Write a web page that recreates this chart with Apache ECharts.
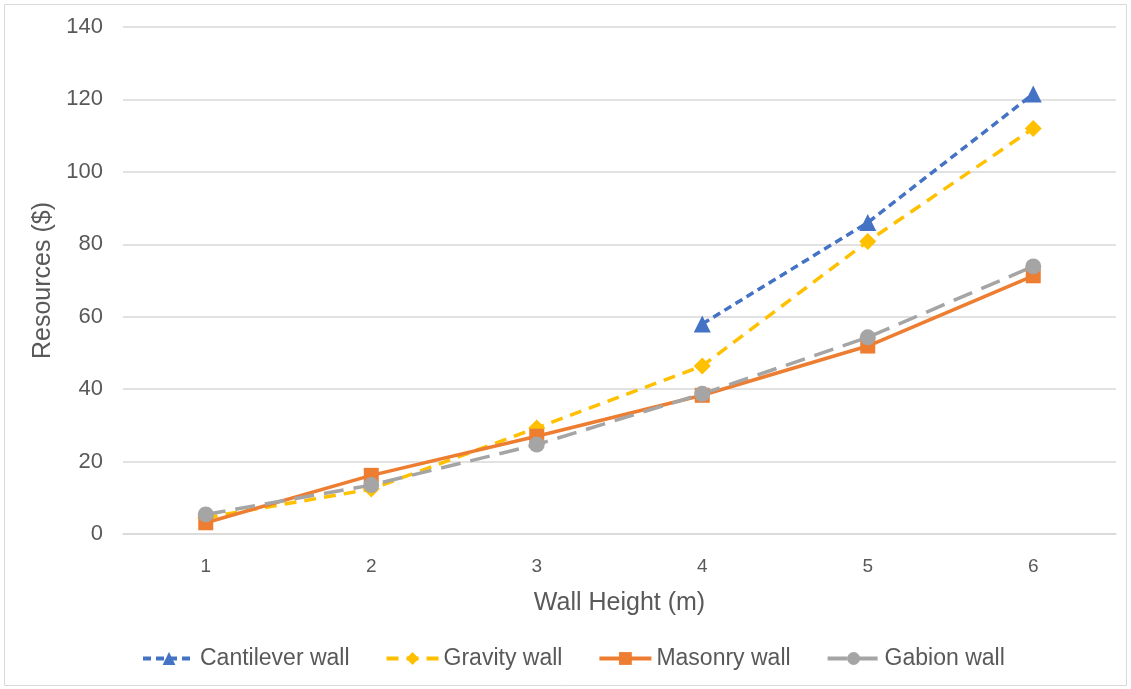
<!DOCTYPE html>
<html>
<head>
<meta charset="utf-8">
<style>
  html, body { margin: 0; padding: 0; background: #ffffff; }
  #chart { width: 1131px; height: 689px; }
</style>
<script src="https://cdn.jsdelivr.net/npm/echarts@6/dist/echarts.min.js"></script>
</head>
<body>
<div id="chart"></div>
<script>
// Wall heights (m) along the x axis
const heights = ['1', '2', '3', '4', '5', '6'];

// Resources ($) for each wall type
const cantilever = [null, null, null, 58, 86, 121.5];
const gravity = [4.5, 12.4, 29.3, 46.4, 80.8, 112];
const masonry = [3.1, 16.2, 27, 38.3, 51.9, 71.3];
const gabion = [5.4, 13.5, 24.7, 38.7, 54.3, 73.9];

// Value axis ticks
const yMin = 0, yMax = 140, yStep = 20;

const textColor = '#595959';
const fontFamily = '"Liberation Sans", Arial, sans-serif';

const chart = echarts.init(document.getElementById('chart'), null, { renderer: 'canvas' });

function lineSeries(name, data, color, symbol, dash, size) {
  return {
    name: name,
    type: 'line',
    data: data,
    symbol: symbol,
    symbolSize: size,
    showAllSymbol: true,
    connectNulls: false,
    itemStyle: { color: color },
    lineStyle: { color: color, width: 3.5, type: dash, cap: 'butt' },
    emphasis: { disabled: true },
    animation: false
  };
}

chart.setOption({
  backgroundColor: '#ffffff',
  animation: false,
  textStyle: { fontFamily: fontFamily, color: textColor },
  graphic: [{
    type: 'rect',
    shape: { x: 4.5, y: 4.5, width: 1122, height: 681 },
    style: { fill: 'none', stroke: '#d9d9d9', lineWidth: 1 },
    silent: true,
    z: -10
  }],
  grid: { left: 123, right: 15, top: 27, bottom: 155, containLabel: false },
  legend: {
    bottom: 14,
    left: 136,
    itemWidth: 52,
    itemHeight: 16,
    itemGap: 35,
    lineStyle: { width: 4 },
    textStyle: { fontSize: 23, color: textColor, fontFamily: fontFamily },
    data: ['Cantilever wall', 'Gravity wall', 'Masonry wall', 'Gabion wall']
  },
  xAxis: {
    type: 'category',
    data: heights,
    boundaryGap: true,
    name: 'Wall Height (m)',
    nameLocation: 'middle',
    nameGap: 57,
    nameTextStyle: { fontSize: 25, color: textColor, fontFamily: fontFamily },
    axisLine: { show: true, lineStyle: { color: '#d9d9d9', width: 1.5 } },
    axisTick: { show: false },
    axisLabel: { fontSize: 19, color: textColor, margin: 23 }
  },
  yAxis: {
    type: 'value',
    min: yMin,
    max: yMax,
    interval: yStep,
    name: 'Resources ($)',
    nameLocation: 'middle',
    nameGap: 64,
    nameTextStyle: { fontSize: 25, color: textColor, fontFamily: fontFamily },
    axisLine: { show: false },
    axisTick: { show: false },
    axisLabel: { fontSize: 22, color: textColor, margin: 20 },
    splitLine: { lineStyle: { color: '#d9d9d9', width: 1.5 } }
  },
  series: [
    lineSeries('Cantilever wall', cantilever, '#4472C4', 'triangle', [8, 5], 17),
    lineSeries('Gravity wall', gravity, '#FFC000', 'diamond', [12, 8], 17),
    lineSeries('Masonry wall', masonry, '#ED7D31', 'rect', 'solid', 15),
    lineSeries('Gabion wall', gabion, '#A5A5A5', 'circle', [20, 10], 16)
  ]
});
</script>
</body>
</html>
